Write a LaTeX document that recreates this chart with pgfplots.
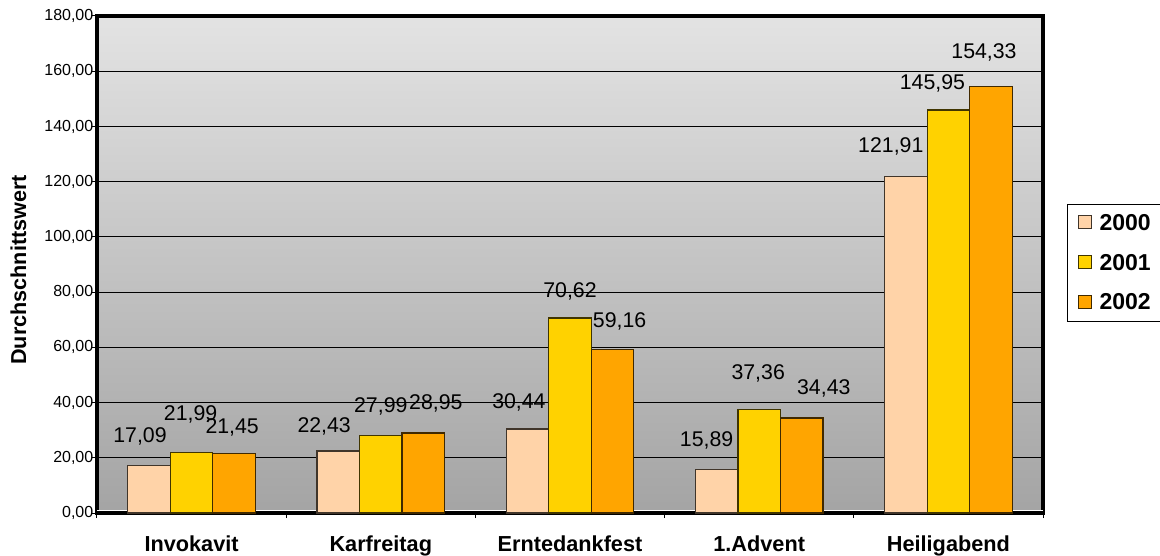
\documentclass[border=0pt]{standalone}
\usepackage{fontspec}
\setmainfont{Liberation Sans}
\usepackage{pgfplots}
\pgfplotsset{compat=1.18}
\usepackage{pgfplotstable}

\definecolor{c2000}{HTML}{FFD3A8}
\definecolor{c2001}{HTML}{FFD200}
\definecolor{c2002}{HTML}{FFA500}
\definecolor{bgtop}{HTML}{E3E3E3}
\definecolor{bgbot}{HTML}{A4A4A4}

% dx, dy: label offset (pt) from the category centre / bar top
\pgfplotstableread{
x y dx dy
0 17.09 -51.6 29
1 22.43 -56.6 25
2 30.44 -51.1 27
3 15.89 -52.6 29
4 121.91 -57.6 29.5
}\dataA
\pgfplotstableread{
x y dx dy
0 21.99 -1 38
1 27.99 0 29
2 70.62 0 27
3 37.36 -1 36
4 145.95 -16 27
}\dataB
\pgfplotstableread{
x y dx dy
0 21.45 40.6 26
1 28.95 55.1 30
2 59.16 49.6 28
3 34.43 64.6 30
4 154.33 35.6 34
}\dataC

\begin{document}
\begin{tikzpicture}
\useasboundingbox (-97pt,-42pt) rectangle (1063pt,513pt);
\begin{axis}[
  scale only axis, width=946pt, height=497pt,
  xmin=-0.5, xmax=4.5, ymin=0, ymax=180,
  axis background/.style={top color=bgtop, bottom color=bgbot},
  axis line style={line width=4pt},
  tick pos=left, tick align=outside, major tick length=5pt,
  tick style={black, line width=1pt},
  ytick={0,20,...,180},
  ymajorgrids, major grid style={black, line width=1pt},
  xtick={-0.5,0.5,...,4.5},
  xticklabels={Invokavit,Karfreitag,Erntedankfest,1.Advent,Heiligabend,{}},
  xticklabel style={xshift=94.6pt, anchor=base, yshift=-33pt,
    font=\fontsize{21.7}{21.7}\selectfont\bfseries},
  yticklabel style={anchor=east, inner sep=0pt, xshift=1.5pt, font=\fontsize{16}{16}\selectfont},
  every axis y label/.style={at={(axis description cs:-0.083,0.489)}, rotate=90, anchor=center,
    font=\fontsize{21.6}{21.6}\selectfont\bfseries},
  ylabel={Durchschnittswert},
  /pgf/number format/fixed, /pgf/number format/fixed zerofill,
  /pgf/number format/precision=2, /pgf/number format/use comma,
  /pgf/number format/assume math mode=true,
  legend style={at={(1.0254,0.503)}, anchor=west, draw=black, line width=1pt, fill=white,
    font=\fontsize{23}{23}\selectfont\bfseries, inner xsep=10pt, inner ysep=10pt,
    row sep=22pt, column sep=8pt, nodes={inner sep=0pt}},
  legend cell align=left,
  legend image code/.code={\draw[#1, line width=1pt] (0pt,-5.5pt) rectangle (13pt,7.5pt);},
  lbl/.style={nodes near coords, nodes near coords align={anchor=center},
    visualization depends on={\thisrow{dx}\as\dx},
    visualization depends on={\thisrow{dy}\as\dy},
    every node near coord/.append style={font=\fontsize{21.3}{21.3}\selectfont, black,
      inner sep=0pt, xshift=\dx pt, yshift=\dy pt}},
]
\addplot[white, line width=1.5pt, sharp plot, forget plot] coordinates {(-0.5,0.9) (4.5,0.9)};
\addplot[ybar, bar width=0.225, bar shift=-0.225, fill=c2000, draw=c2000!25!black, line width=1.2pt, lbl] table[x=x,y=y] {\dataA};
\addplot[ybar, bar width=0.225, bar shift=0, fill=c2001, draw=c2001!25!black, line width=1.2pt, lbl] table[x=x,y=y] {\dataB};
\addplot[ybar, bar width=0.225, bar shift=0.225, fill=c2002, draw=c2002!25!black, line width=1.2pt, lbl] table[x=x,y=y] {\dataC};
\legend{2000,2001,2002}
\end{axis}
\end{tikzpicture}
\end{document}
